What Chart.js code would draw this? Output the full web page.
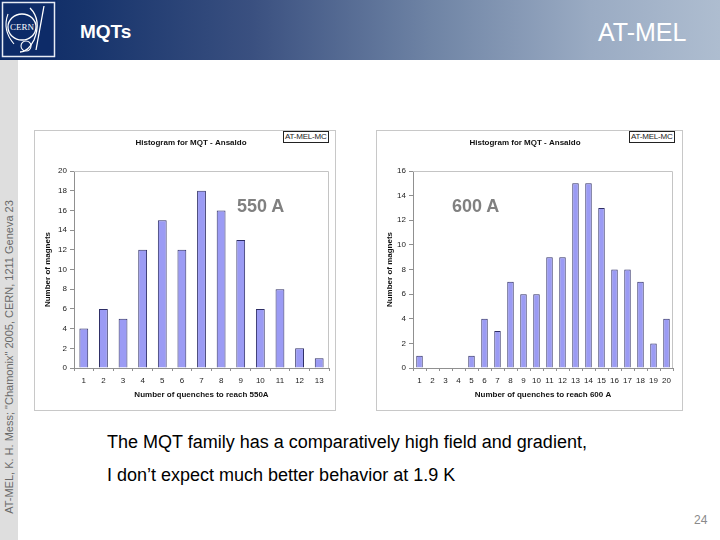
<!DOCTYPE html>
<html><head><meta charset="utf-8">
<script src="https://cdn.jsdelivr.net/npm/chart.js@4"></script>
<style>
body{margin:0;width:720px;height:540px;overflow:hidden;background:#fff;font-family:"Liberation Sans",Arial,sans-serif;position:relative}
.abs{position:absolute}
#hdr{left:0;top:0;width:720px;height:60px;background:linear-gradient(to right,#0a2864 0%,#17346c 12%,#3a5080 35%,#6f84a5 60%,#9aabc3 82%,#aebdd0 100%)}
#logo{left:0;top:0}
#mqts{left:80px;top:21px;font-size:19px;font-weight:bold;color:#fff}
#atmel{left:598px;top:18px;font-size:25px;color:#fff}
#strip{left:0;top:60px;width:18px;height:480px;background:#dedede}
#striptxt{left:9px;top:357px;transform:translate(-50%,-50%) rotate(-90deg);white-space:nowrap;font-size:11px;color:#6a6a6a}
canvas{position:absolute;outline:1px solid #c8c8c8}
.tag{position:absolute;border:1px solid #222;font-size:8px;line-height:10px;padding:0 1px;color:#222;background:#fff;letter-spacing:-0.2px}
.amp{position:absolute;font-size:18px;font-weight:bold;color:#808080}
.txt{position:absolute;left:107px;font-size:18px;color:#000;white-space:nowrap}
#pg{left:694px;top:513px;font-size:12px;color:#8a8a8a}
</style></head>
<body>
<div id="hdr" class="abs"></div>
<svg id="logo" class="abs" width="57" height="59" viewBox="0 0 57 59">
<rect x="0" y="0" width="57" height="59" fill="#0d2b68"/>
<rect x="2.5" y="2.5" width="52" height="54" fill="none" stroke="#e8ecf4" stroke-width="1.5"/>
<ellipse cx="22" cy="27" rx="14" ry="13" fill="none" stroke="#fff" stroke-width="1.3"/>
<text x="22" y="30" font-size="9" fill="#fff" text-anchor="middle" font-family="Liberation Serif">CERN</text>
<path d="M30 8 Q42 20 34 40 Q28 52 20 52" fill="none" stroke="#fff" stroke-width="1.3"/>
<path d="M44 6 L36 50" fill="none" stroke="#fff" stroke-width="1.3"/>
<path d="M8 14 Q2 30 14 44" fill="none" stroke="#fff" stroke-width="1.1"/>
<ellipse cx="26" cy="46" rx="5" ry="5" fill="none" stroke="#fff" stroke-width="1.1"/>
</svg>
<div id="mqts" class="abs">MQTs</div>
<div id="atmel" class="abs">AT-MEL</div>
<div id="strip" class="abs"></div>
<div id="striptxt" class="abs">AT-MEL, K. H. Mess; "Chamonix" 2005, CERN, 1211 Geneva 23</div>

<canvas id="c1" width="300" height="279" style="left:35px;top:131px"></canvas>
<canvas id="c2" width="305" height="279" style="left:377px;top:131px"></canvas>
<div class="tag" style="left:283px;top:131px">AT-MEL-MC</div>
<div class="tag" style="left:629px;top:131px">AT-MEL-MC</div>
<div class="amp" style="left:237px;top:196px">550 A</div>
<div class="amp" style="left:452px;top:196px">600 A</div>

<div class="txt" style="top:432px">The MQT family has a comparatively high field and gradient,</div>
<div class="txt" style="top:465px">I don’t expect much better behavior at 1.9 K</div>
<div id="pg" class="abs">24</div>

<script>
const chartTitle = 'Histogram for MQT - Ansaldo';
const yTitle = 'Number of magnets';

const quenches550 = ['1','2','3','4','5','6','7','8','9','10','11','12','13'];
const magnets550 = [4,6,5,12,15,12,18,16,13,6,8,2,1];
const xTitle550 = 'Number of quenches to reach 550A';
const yMax550 = 20;

const quenches600 = ['1','2','3','4','5','6','7','8','9','10','11','12','13','14','15','16','17','18','19','20'];
const magnets600 = [1,0,0,0,1,4,3,7,6,6,9,9,15,15,13,8,8,7,2,4];
const xTitle600 = 'Number of quenches to reach 600 A';
const yMax600 = 16;

const yStep = 2;

const FONT = '"Liberation Sans", Arial, sans-serif';
const plotBorder = {
  id: 'plotBorder',
  beforeDatasetsDraw(c) {
    const {ctx, chartArea: a} = c;
    ctx.save();
    ctx.strokeStyle = '#c4c4c4';
    ctx.lineWidth = 1;
    ctx.beginPath();
    ctx.moveTo(a.left, Math.round(a.top) + 0.5);
    ctx.lineTo(Math.round(a.right) - 0.5, Math.round(a.top) + 0.5);
    ctx.lineTo(Math.round(a.right) - 0.5, a.bottom);
    ctx.stroke();
    ctx.restore();
  }
};

function makeChart(id, labels, values, yMax, xTitle, padLeft, yW, yTitlePad, padRight, barPct) {
  return new Chart(document.getElementById(id), {
    type: 'bar',
    data: {
      labels: labels,
      datasets: [{
        data: values,
        backgroundColor: '#9b9bf4',
        borderColor: '#2e2e66',
        borderWidth: 1,
        barPercentage: barPct,
        categoryPercentage: 1.0
      }]
    },
    options: {
      responsive: false,
      animation: false,
      layout: {padding: {left: padLeft, right: padRight, top: 0, bottom: 2}},
      plugins: {
        legend: {display: false},
        tooltip: {enabled: false},
        title: {
          display: true, text: chartTitle, color: '#111',
          font: {family: FONT, size: 8, weight: 'bold'},
          padding: {top: 7, bottom: 23.4}
        }
      },
      scales: {
        x: {
          grid: {drawOnChartArea: false, drawTicks: true, tickLength: 3, color: '#909090'},
          border: {color: '#909090'},
          ticks: {font: {family: FONT, size: 8}, color: '#222', padding: 5, maxRotation: 0, autoSkip: false},
          title: {display: true, text: xTitle, color: '#111', font: {family: FONT, size: 8, weight: 'bold'}, padding: {top: 0, bottom: 8}},
          afterFit(s) { s.height = 40; }
        },
        y: {
          min: 0, max: yMax,
          grid: {drawOnChartArea: false, drawTicks: true, tickLength: 4, color: '#909090'},
          border: {color: '#909090'},
          ticks: {stepSize: yStep, font: {family: FONT, size: 8}, color: '#222', padding: 3},
          title: {display: true, text: yTitle, color: '#111', font: {family: FONT, size: 8, weight: 'bold'}, padding: {top: yTitlePad, bottom: 0}},
          afterFit(s) { s.width = yW; }
        }
      }
    },
    plugins: [plotBorder]
  });
}

makeChart('c1', quenches550, magnets550, yMax550, xTitle550, 18, 21, -10, 6, 0.45);
makeChart('c2', quenches600, magnets600, yMax600, xTitle600, 0, 36, 8, 9, 0.5);
</script>
</body></html>
